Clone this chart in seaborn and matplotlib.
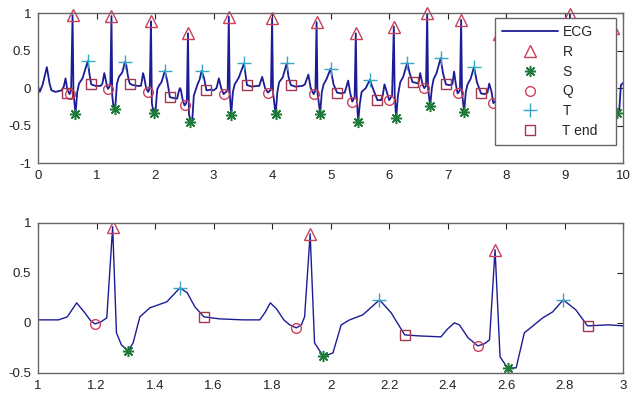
import matplotlib
matplotlib.use("Agg")
import matplotlib.pyplot as plt
import numpy as np
import seaborn as sns

# ECG trace (s, mV-ish)
ecg_t = [0.00, 0.03, 0.08, 0.15, 0.20, 0.23, 0.30, 0.40, 0.44, 0.47, 0.50, 0.54, 0.565,
         0.59, 0.605, 0.64, 0.67, 0.70, 0.76, 0.85, 0.88, 0.91, 0.98, 1.07,
         1.10, 1.132, 1.16, 1.18, 1.195, 1.215, 1.235, 1.255, 1.268, 1.285, 1.308, 1.325, 1.348,
         1.382, 1.44, 1.485, 1.51, 1.536, 1.567, 1.62, 1.70, 1.758,
         1.775, 1.794, 1.815, 1.84, 1.86, 1.883, 1.90, 1.911, 1.93, 1.945, 1.974, 1.99, 2.008,
         2.036, 2.065, 2.11, 2.167, 2.207, 2.253, 2.30, 2.377,
         2.40, 2.423, 2.44, 2.47, 2.503, 2.525, 2.543, 2.562, 2.579, 2.605, 2.634, 2.662,
         2.725, 2.759, 2.795, 2.838, 2.878, 2.95, 3.00,
         3.05, 3.09, 3.13, 3.17, 3.24, 3.26, 3.275, 3.30, 3.33, 3.36, 3.43, 3.52, 3.55, 3.57, 3.65, 3.75,
         3.78, 3.83, 3.88, 3.93, 3.98, 4.00, 4.015, 4.06, 4.09, 4.12, 4.18, 4.25, 4.28, 4.32, 4.40, 4.52,
         4.56, 4.62, 4.66, 4.71, 4.74, 4.76, 4.775, 4.82, 4.85, 4.88, 4.93, 5.00, 5.05, 5.11, 5.18, 5.24,
         5.27, 5.30, 5.33, 5.37, 5.41, 5.43, 5.445, 5.47, 5.50, 5.53, 5.60, 5.67, 5.72, 5.80, 5.86, 5.89,
         5.92, 5.96, 6.00, 6.05, 6.08, 6.095, 6.12, 6.15, 6.19, 6.24, 6.31, 6.35, 6.40, 6.46, 6.50,
         6.53, 6.57, 6.60, 6.63, 6.65, 6.665, 6.70, 6.73, 6.76, 6.81, 6.88, 6.92, 6.97, 7.03, 7.08,
         7.11, 7.14, 7.17, 7.21, 7.23, 7.245, 7.28, 7.31, 7.34, 7.39, 7.45, 7.50, 7.57, 7.63, 7.68,
         7.71, 7.75, 7.78, 7.84, 7.87, 7.885, 7.91, 7.94, 7.98, 8.03, 8.10, 8.15, 8.20, 8.28, 8.33,
         8.36, 8.39, 8.42, 8.46, 8.48, 8.495, 8.52, 8.55, 8.59, 8.64, 8.72, 8.76, 8.80, 8.88, 8.94,
         8.97, 9.00, 9.03, 9.07, 9.09, 9.105, 9.13, 9.16, 9.20, 9.26, 9.35, 9.40, 9.45, 9.55, 9.62,
         9.68, 9.73, 9.78, 9.81, 9.83, 9.845, 9.89, 9.93, 9.96, 10.00]
ecg_v = [0.02, -0.05, 0.05, 0.28, 0.05, -0.03, -0.05, -0.03, 0.02, 0.13, -0.02, -0.08, -0.03,
         0.97, -0.05, -0.35, -0.05, 0.06, 0.13, 0.36, 0.18, 0.05, 0.03, 0.03,
         0.06, 0.20, 0.10, 0.02, -0.01, 0.01, 0.05, 0.96, -0.10, -0.22, -0.28, -0.20, 0.06,
         0.15, 0.21, 0.35, 0.30, 0.16, 0.06, 0.04, 0.03, 0.03,
         0.10, 0.20, 0.14, 0.03, -0.02, -0.05, -0.02, 0.06, 0.89, -0.20, -0.33, -0.32, -0.30,
         -0.02, 0.03, 0.08, 0.23, 0.10, -0.12, -0.13, -0.14,
         -0.06, 0.00, -0.02, -0.15, -0.23, -0.21, -0.17, 0.73, -0.34, -0.45, -0.45, -0.10,
         0.05, 0.11, 0.23, 0.13, -0.03, -0.02, -0.03,
         0.00, 0.13, 0.00, -0.08, -0.03, 0.95, -0.05, -0.36, -0.05, 0.05, 0.14, 0.33, 0.15, 0.04, 0.02, 0.03,
         0.03, 0.15, 0.00, -0.06, -0.02, 0.93, -0.05, -0.35, -0.05, 0.08, 0.14, 0.33, 0.15, 0.04, 0.02, 0.03,
         0.05, 0.18, 0.00, -0.08, -0.03, 0.88, -0.05, -0.34, -0.05, 0.05, 0.12, 0.26, 0.05, -0.06, -0.07, -0.06,
         0.02, 0.10, -0.05, -0.18, -0.12, 0.73, -0.10, -0.45, -0.20, -0.05, 0.00, 0.11, 0.00, -0.16, -0.16, -0.10,
         0.05, -0.05, -0.16, -0.10, 0.82, -0.10, -0.40, -0.10, 0.08, 0.15, 0.34, 0.20, 0.08, 0.07, 0.06,
         0.20, 0.05, 0.00, 0.03, 1.00, 0.00, -0.24, 0.00, 0.12, 0.20, 0.40, 0.20, 0.05, 0.04, 0.05,
         0.22, 0.05, -0.07, -0.03, 0.91, -0.05, -0.32, -0.05, 0.05, 0.12, 0.28, 0.08, -0.07, -0.08, -0.06,
         0.06, -0.05, -0.20, -0.15, 0.72, -0.10, -0.40, -0.10, 0.05, 0.12, 0.25, 0.10, -0.05, -0.05, -0.03,
         0.12, 0.00, -0.10, -0.05, 0.85, -0.05, -0.35, -0.05, 0.08, 0.15, 0.30, 0.12, 0.00, -0.01, 0.00,
         0.15, 0.02, -0.05, -0.02, 0.99, -0.05, -0.30, -0.05, 0.08, 0.15, 0.30, 0.12, 0.00, -0.01, 0.00,
         0.12, 0.00, -0.10, -0.05, 0.80, -0.10, -0.33, -0.32, 0.04, 0.07]

# detected fiducial points
r_t = [0.59, 1.255, 1.93, 2.562, 3.26, 4.00, 4.76, 5.43, 6.08, 6.65, 7.23, 7.87, 8.48, 9.09, 9.83]
r_v = [0.97, 0.96, 0.89, 0.73, 0.95, 0.93, 0.88, 0.73, 0.82, 1.00, 0.91, 0.72, 0.85, 0.99, 0.80]
s_t = [0.64, 1.308, 1.974, 2.605, 3.30, 4.06, 4.82, 5.47, 6.12, 6.70, 7.28, 7.91, 8.52, 9.13, 9.89]
s_v = [-0.35, -0.28, -0.33, -0.45, -0.36, -0.35, -0.34, -0.45, -0.40, -0.24, -0.32, -0.40, -0.35, -0.30, -0.33]
q_t = [0.54, 1.195, 1.883, 2.503, 3.17, 3.93, 4.71, 5.37, 6.00, 6.60, 7.17, 7.78, 8.42, 9.03, 9.78]
q_v = [-0.08, -0.01, -0.05, -0.23, -0.08, -0.06, -0.08, -0.18, -0.16, 0.00, -0.07, -0.20, -0.10, -0.05, -0.10]
t_t = [0.85, 1.485, 2.167, 2.795, 3.52, 4.25, 5.00, 5.67, 6.31, 6.88, 7.45, 8.10, 8.72, 9.35]
t_v = [0.36, 0.35, 0.23, 0.23, 0.33, 0.33, 0.26, 0.11, 0.34, 0.40, 0.28, 0.25, 0.30, 0.30]
tend_t = [0.50, 0.91, 1.567, 2.253, 2.878, 3.57, 4.32, 5.11, 5.80, 6.40, 6.97, 7.57, 8.20, 8.80, 9.45]
tend_v = [-0.07, 0.05, 0.06, -0.12, -0.03, 0.04, 0.04, -0.06, -0.16, 0.08, 0.05, -0.07, -0.05, 0.00, 0.00]

sns.set_style("white")
plt.rcParams["font.family"] = ["Liberation Sans", "DejaVu Sans"]

LINE_C = "#1c1c96"
ASTERISK = (8, 2, 0)


def draw(ax, lw, clip):
    sns.lineplot(x=ecg_t, y=ecg_v, ax=ax, color=LINE_C, linewidth=lw,
                 estimator=None, sort=False, label="ECG", legend=False)
    ax.plot(r_t, r_v, "^", mfc="none", mec="#c8405a", ms=8, mew=1, label="R", clip_on=clip)
    ax.plot(s_t, s_v, marker=ASTERISK, ls="none", color="#1f7a3a", ms=8, mew=1.1,
            label="S", clip_on=clip)
    ax.plot(q_t, q_v, "o", mfc="none", mec="#d0405a", ms=7, mew=1, label="Q", clip_on=clip)
    ax.plot(t_t, t_v, "+", color="#35a8c5", ms=10, mew=1, label="T", clip_on=clip)
    ax.plot(tend_t, tend_v, "s", mfc="none", mec="#a0384f", ms=7, mew=1, label="T end", clip_on=clip)
    ax.tick_params(direction="in", top=True, right=True, length=4, width=0.8,
                   labelsize=9.5, colors="#222222", pad=5)
    for sp in ax.spines.values():
        sp.set_color("#666666")
        sp.set_linewidth(1.0)


fig = plt.figure(figsize=(6.34, 4.08), dpi=100)
ax1 = fig.add_axes([0.060, 0.600, 0.923, 0.368])
ax2 = fig.add_axes([0.060, 0.086, 0.923, 0.368])

draw(ax1, 1.3, False)
ax1.set_xlim(0, 10)
ax1.set_ylim(-1, 1)
ax1.set_xticks(np.arange(0, 11, 1))
ax1.set_yticks([-1, -0.5, 0, 0.5, 1])
ax1.set_yticklabels(["-1", "-0.5", "0", "0.5", "1"])
leg = ax1.legend(loc="upper left", bbox_to_anchor=(0.781, 0.133, 0.207, 0.834), mode="expand",
                 borderaxespad=0, fontsize=10, handlelength=4.0, handletextpad=0.35,
                 labelspacing=0.42, borderpad=0.5,
                 frameon=True, fancybox=False, framealpha=1, edgecolor="#666666")
leg.get_frame().set_linewidth(1.0)
leg.set_zorder(10)

draw(ax2, 1.0, True)
ax2.set_xlim(1, 3)
ax2.set_ylim(-0.5, 1)
ax2.set_xticks([1, 1.2, 1.4, 1.6, 1.8, 2, 2.2, 2.4, 2.6, 2.8, 3])
ax2.set_xticklabels(["1", "1.2", "1.4", "1.6", "1.8", "2", "2.2", "2.4", "2.6", "2.8", "3"])
ax2.set_yticks([-0.5, 0, 0.5, 1])
ax2.set_yticklabels(["-0.5", "0", "0.5", "1"])

fig.savefig("out.png", dpi=100)
